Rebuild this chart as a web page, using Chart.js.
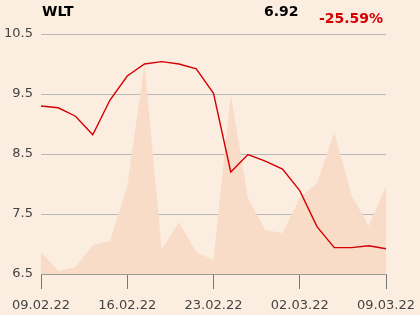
<!DOCTYPE html>
<html>
<head>
<meta charset="UTF-8">
<title>WLT</title>
<script src="https://cdn.jsdelivr.net/npm/chart.js"></script>
<style>
  html, body { margin: 0; padding: 0; background: #fcede1; }
  .wrap { position: relative; width: 420px; height: 315px; font-family: 'DejaVu Sans', sans-serif; }
  canvas { position: absolute; left: 0; top: 0; }
  .lbl { position: absolute; font-weight: bold; font-size: 14px; white-space: nowrap; line-height: 1; }
</style>
</head>
<body>
<div class="wrap">
  <canvas id="c" width="420" height="315"></canvas>
  <div class="lbl" style="left:42px; top:4px; color:#000;">WLT</div>
  <div class="lbl" style="left:264px; top:4px; color:#000;">6.92</div>
  <div class="lbl" style="left:319px; top:11px; color:#d40000;">-25.59%</div>
</div>
<script>
// trading days
const dates = ['09.02.22','10.02.22','11.02.22','14.02.22','15.02.22','16.02.22','17.02.22','18.02.22',
  '21.02.22','22.02.22','23.02.22','24.02.22','25.02.22','28.02.22','01.03.22','02.03.22','03.03.22',
  '04.03.22','07.03.22','08.03.22','09.03.22'];
const price = [9.30, 9.27, 9.13, 8.82, 9.40, 9.80, 10.00, 10.04, 10.00, 9.92, 9.51,
  8.20, 8.49, 8.38, 8.25, 7.89, 7.29, 6.94, 6.94, 6.97, 6.92];
const volume = [22, 3, 7, 29, 33, 88, 210, 25, 52, 22, 14,
  180, 76, 44, 41, 76, 91, 142, 79, 48, 88];
const yTicks = [6.5, 7.5, 8.5, 9.5, 10.5];

new Chart(document.getElementById('c'), {
  type: 'line',
  data: {
    labels: dates,
    datasets: [{
      data: price,
      yAxisID: 'y',
      borderColor: '#d40000',
      borderWidth: 1.4,
      pointRadius: 0,
      tension: 0,
      fill: false,
      order: 0
    }, {
      data: volume,
      yAxisID: 'y2',
      borderWidth: 0,
      backgroundColor: '#f9dcc8',
      pointRadius: 0,
      tension: 0,
      fill: 'origin',
      order: 1
    }]
  },
  options: {
    responsive: false,
    animation: false,
    layout: { padding: { top: 34, right: 34, left: 0, bottom: 0 } },
    plugins: { legend: { display: false }, tooltip: { enabled: false } },
    scales: {
      x: {
        offset: false,
        grid: { drawOnChartArea: false, color: '#777', tickLength: 15 },
        border: { color: '#999' },
        ticks: {
          autoSkip: false, maxRotation: 0, color: '#444', padding: 9,
          font: { family: 'DejaVu Sans', size: 13 },
          callback: function (v, i) { return i % 5 === 0 ? dates[i] : null; }
        },
        afterFit: function (s) { s.height = 41; s.paddingLeft = 0; s.paddingRight = 0; }
      },
      y: {
        min: 6.5, max: 10.5,
        afterBuildTicks: function (s) { s.ticks = yTicks.map(v => ({ value: v })); },
        grid: { color: '#b8b8b8', tickLength: 0 },
        border: { display: false },
        ticks: { color: '#444', padding: 8, font: { family: 'DejaVu Sans', size: 13 } },
        afterFit: function (s) { s.width = 41; s.paddingTop = 0; s.paddingBottom = 0; }
      },
      y2: { display: false, min: 0, max: 240 }
    }
  }
});
</script>
</body>
</html>
